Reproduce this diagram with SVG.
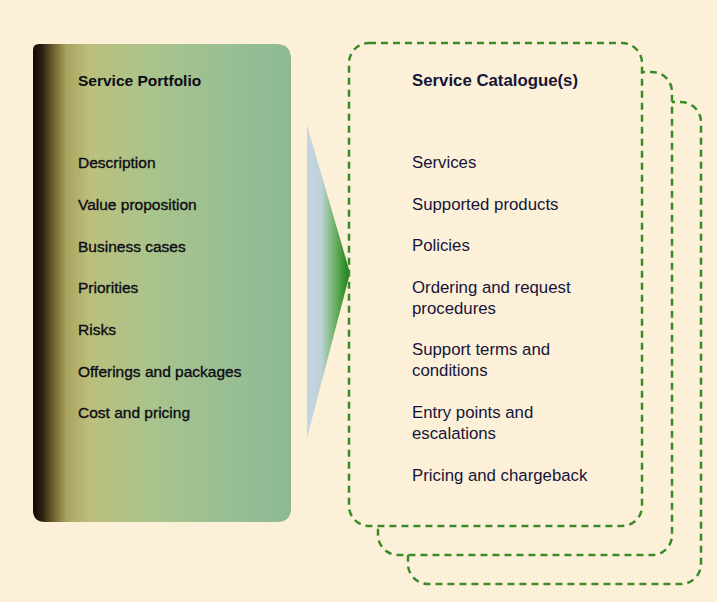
<svg xmlns="http://www.w3.org/2000/svg" width="717" height="602" viewBox="0 0 717 602">
<defs>
<linearGradient id="portGrad" x1="33" y1="0" x2="291" y2="0" gradientUnits="userSpaceOnUse">
<stop offset="0" stop-color="#120805"/>
<stop offset="0.035" stop-color="#2e2010"/>
<stop offset="0.08" stop-color="#6e6230"/>
<stop offset="0.13" stop-color="#a8a460"/>
<stop offset="0.22" stop-color="#bcbf7c"/>
<stop offset="0.45" stop-color="#aac48c"/>
<stop offset="0.8" stop-color="#97be94"/>
<stop offset="1" stop-color="#8cb993"/>
</linearGradient>
<linearGradient id="arrowGrad" x1="306" y1="0" x2="350" y2="0" gradientUnits="userSpaceOnUse">
<stop offset="0" stop-color="#c6d6e2"/>
<stop offset="0.35" stop-color="#bcd2d6"/>
<stop offset="0.6" stop-color="#7cb878"/>
<stop offset="0.85" stop-color="#3a9432"/>
<stop offset="1" stop-color="#1c7a1c"/>
</linearGradient>
<style>
.bg{fill:#fdf0d8}
.dash{fill:#fdf0d8;stroke:#3a8a28;stroke-width:2.5;stroke-dasharray:7 5}
.title{font-family:"Liberation Sans",Arial,sans-serif;font-weight:bold}
.item{font-family:"Liberation Sans",Arial,sans-serif}
.left{fill:#0c0c14;font-size:15.5px}
.left.item{stroke:#0c0c14;stroke-width:0.35}
.right{fill:#151538;font-size:16.8px}
</style>
</defs>
<rect class="bg" x="0" y="0" width="717" height="602"/>

<g id="service-portfolio">
<path d="M39,44 H276 Q291,44 291,59 V508 Q291,522 277,522 H45 Q33,522 33,510 V50 Q33,44 39,44 Z" fill="url(#portGrad)"/>
<text class="title left" x="78" y="86">Service Portfolio</text>
<text class="item left" x="78" y="168">Description</text>
<text class="item left" x="78" y="210">Value proposition</text>
<text class="item left" x="78" y="252">Business cases</text>
<text class="item left" x="78" y="293">Priorities</text>
<text class="item left" x="78" y="335">Risks</text>
<text class="item left" x="78" y="377">Offerings and packages</text>
<text class="item left" x="78" y="418">Cost and pricing</text>
</g>

<g id="connectors">
<path d="M307,125 L350,273 L307,438 Z" fill="url(#arrowGrad)"/>
</g>

<g id="catalogue-3">
<rect class="dash" x="408" y="102" width="293" height="482" rx="20"/>
</g>
<g id="catalogue-2">
<rect class="dash" x="378" y="72" width="294" height="483" rx="20"/>
</g>
<g id="catalogue-1">
<rect class="dash" x="349" y="43" width="293" height="483" rx="20"/>
<text class="title right" x="412" y="86">Service Catalogue(s)</text>
<text class="item right" x="412" y="168">Services</text>
<text class="item right" x="412" y="210">Supported products</text>
<text class="item right" x="412" y="251">Policies</text>
<text class="item right" x="412" y="293">Ordering and request</text>
<text class="item right" x="412" y="314">procedures</text>
<text class="item right" x="412" y="355">Support terms and</text>
<text class="item right" x="412" y="376">conditions</text>
<text class="item right" x="412" y="418">Entry points and</text>
<text class="item right" x="412" y="439">escalations</text>
<text class="item right" x="412" y="481">Pricing and chargeback</text>
</g>
</svg>
